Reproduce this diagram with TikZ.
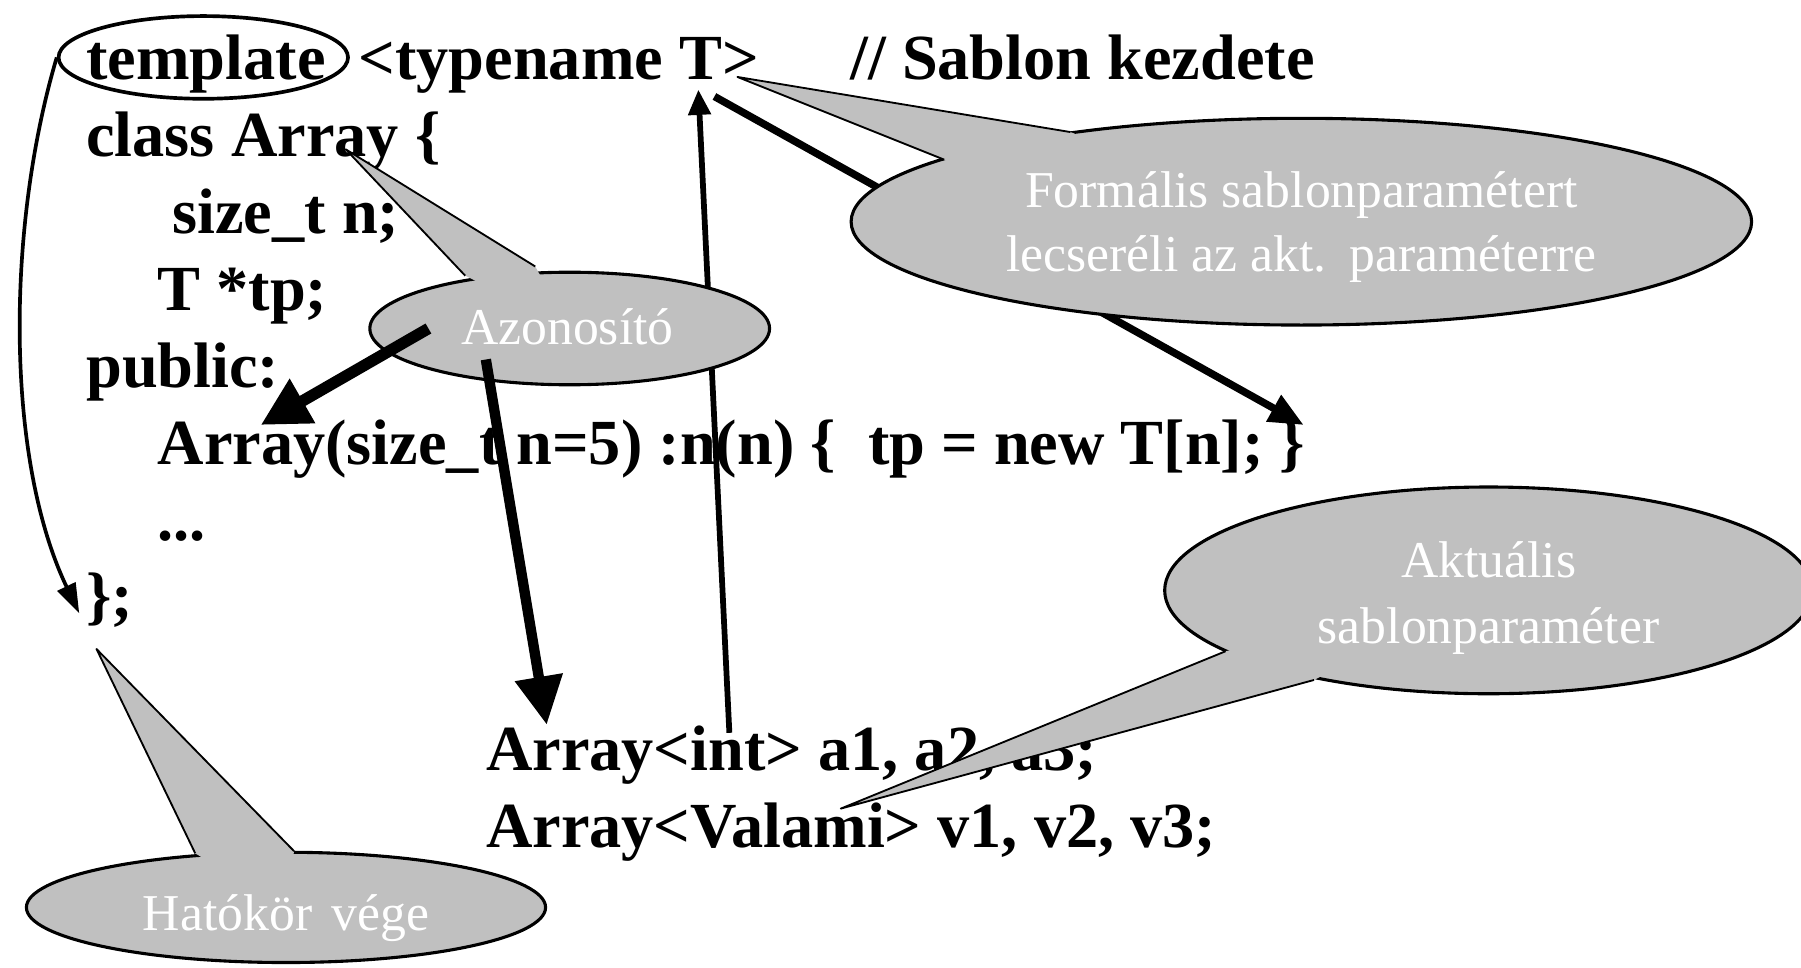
\documentclass[tikz,border=0pt]{standalone}
\usepackage{fontspec}
\setmainfont{Liberation Serif}
\usetikzlibrary{arrows.meta,shapes.geometric}
\definecolor{callgray}{HTML}{C0C0C0}
\begin{document}
\begin{tikzpicture}[x=1pt,y=-1pt,
  code/.style={anchor=base west,inner sep=0pt,font=\bfseries\fontsize{56}{66}\selectfont},
  ctext/.style={anchor=base,inner sep=0pt,text=white,font=\fontsize{45}{54}\selectfont},
  bubble/.style={ellipse,fill=callgray,draw=black,line width=2.7pt,inner sep=0pt},
  tailline/.style={draw=black,line width=1.6pt,line join=round},
  arrowthin/.style={line width=5pt,-{Triangle[length=22pt,width=19pt]}},
]
\useasboundingbox (0,0) rectangle (1568,842);
\fill[white] (0,0) rectangle (1568,842);

% ---- code lines
\node[code] (l1a) at (75,69) {template};
\node[code] (l1b) at (312,69) {<typename T>};
\node[code] (l1c) at (740,69) {// Sablon kezdete};
\node[code] (l2) at (75,136) {class Array \{};
\node[code] (l3) at (150,203) {size\_t n;};
\node[code] (l4) at (137,270) {T *tp;};
\node[code] (l5) at (75,337) {public:};
\node[code] (l6) at (137,404) {Array(size\_t n=5) :n(n) \{ ~tp = new T[n]; \}};
\node[code] (l7) at (137,471) {...};
\node[code] (l8) at (75,538) {\};};
\node[code] (l9) at (423,671) {Array<int> a1, a2, a3;};
\node[code] (l10) at (423,738) {Array<Valami> v1, v2, v3;};

% ---- template ellipse and scope arrow
\node[ellipse,draw=black,line width=3.2pt,minimum width=252pt,minimum height=72pt,inner sep=0pt] (tmpl) at (177,50) {};
\coordinate (scopeend) at (69,534);
\draw[line width=3.2pt,-{Triangle[length=26pt,width=17pt]}] (tmpl.west) .. controls (5,200) and (5,400) .. (scopeend);

% ---- arrows lying under the bubbles
\coordinate (aStart) at (635,638);
\coordinate (aEnd) at (608,78);
\draw[arrowthin] (aStart) -- (aEnd);
\coordinate (bStart) at (622,84);
\coordinate (bEnd) at (1135,370);
\draw[line width=6.5pt,-{Triangle[length=30pt,width=25pt]}] (bStart) -- (bEnd);

% ---- bubble: Formalis
\node[bubble,minimum width=784pt,minimum height=180pt] (form) at (1133,193) {};
\coordinate (ftip) at (642,67);
\coordinate (fb1) at (822,139);
\coordinate (fb2) at (932,115);
\fill[callgray] (ftip) -- (fb1) -- (form.center) -- (fb2) -- cycle;
\draw[tailline] (fb1) -- (ftip) -- (fb2);
\node[ctext] (ft1) at (1133,181) {Formális sablonparamétert};
\node[ctext] (ft2) at (1133,236) {lecseréli az akt.\hspace{0.12em} paraméterre};

% ---- bubble: Azonosito
\node[bubble,minimum width=348pt,minimum height=98pt] (azon) at (496,286) {};
\coordinate (ztip) at (301,130);
\coordinate (zb1) at (405,240);
\coordinate (zb2) at (466,232);
\fill[callgray] (ztip) -- (zb1) -- (azon.center) -- (zb2) -- cycle;
\draw[tailline] (zb1) -- (ztip) -- (zb2);
\node[ctext] (zt) at (494,300) {Azonosító};

% ---- arrows from Azonosito
\coordinate (cStart) at (373,286);
\coordinate (cEnd) at (227,370);
\draw[line width=10pt,-{Triangle[length=42pt,width=42pt]}] (cStart) -- (cEnd);
\coordinate (dStart) at (423,313);
\coordinate (dEnd) at (476,631);
\draw[line width=9pt,-{Triangle[length=42pt,width=40pt]}] (dStart) -- (dEnd);

% ---- bubble: Aktualis
\node[bubble,minimum width=564pt,minimum height=180pt] (akt) at (1296,514) {};
\coordinate (ktip) at (732,704);
\coordinate (kb1) at (1067,567);
\coordinate (kb2) at (1144,592);
\fill[callgray] (ktip) -- (kb1) -- (akt.center) -- (kb2) -- cycle;
\draw[tailline] (kb1) -- (ktip) -- (kb2);
\node[ctext] (kt1) at (1296,503) {Aktuális};
\node[ctext] (kt2) at (1296,560) {sablonparaméter};

% ---- bubble: Hatokor vege
\node[bubble,minimum width=452pt,minimum height=96pt] (hat) at (249,790) {};
\coordinate (htip) at (84,565);
\coordinate (hb1) at (170,743);
\coordinate (hb2) at (256,741);
\fill[callgray] (htip) -- (hb1) -- (hat.center) -- (hb2) -- cycle;
\draw[tailline] (hb1) -- (htip) -- (hb2);
\node[ctext] (ht) at (249,810) {Hatókör\hspace{0.12em} vége};
\end{tikzpicture}
\end{document}
